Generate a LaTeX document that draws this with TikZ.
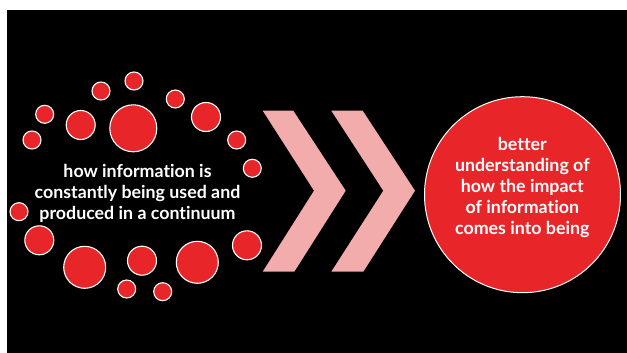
\documentclass[tikz,border=0pt]{standalone}
\usepackage{fontspec}
\setmainfont{Lato}[Ligatures=NoCommon]
\definecolor{dotred}{HTML}{E8262A}
\definecolor{chev}{HTML}{F2ACAC}
\begin{document}
\begin{tikzpicture}[x=1pt,y=-1pt,
  dot/.style={circle,fill=dotred,draw=white,line width=1.1pt,inner sep=0pt},
  lbl/.style={text=white,font=\bfseries\fontsize{17.8}{21}\selectfont,align=center},
  chevron/.style={fill=chev,draw=none}]
\useasboundingbox (0,0) rectangle (627,353);
\fill[white] (0,0) rectangle (627,353);
\fill[black] (7,10) rectangle (627,353);
% small dots r=9 -> 18
\node[dot,minimum size=18pt] (c1) at (32,140) {};
\node[dot,minimum size=18pt] (c2) at (44.7,114.3) {};
\node[dot,minimum size=29pt] (c3) at (80.7,125) {};
\node[dot,minimum size=18pt] (c4) at (101,91) {};
\node[dot,minimum size=18pt] (c5) at (134,81) {};
\node[dot,minimum size=47pt] (c6) at (133.3,128.3) {};
\node[dot,minimum size=18pt] (c7) at (175.3,99) {};
\node[dot,minimum size=29pt] (c8) at (206,117) {};
\node[dot,minimum size=18pt] (c9) at (236.7,140) {};
\node[dot,minimum size=18pt] (c10) at (252.3,168.3) {};
\node[dot,minimum size=18pt] (c11) at (19,211.7) {};
\node[dot,minimum size=29pt] (c12) at (39.3,240.3) {};
\node[dot,minimum size=42pt] (c13) at (84.7,267.3) {};
\node[dot,minimum size=29pt] (c14) at (142,260.7) {};
\node[dot,minimum size=18pt] (c15) at (126.7,289) {};
\node[dot,minimum size=18pt] (c16) at (162.7,291.7) {};
\node[dot,minimum size=42pt] (c17) at (197.3,262.3) {};
\node[dot,minimum size=29pt] (c18) at (247,245.3) {};
\node[lbl] (left) at (137.5,193.5) {how information is\\constantly being used and\\produced in a continuum};
% chevrons
\fill[chevron] (262.7,110.7) -- (293.3,110.7) -- (345.7,190.7) -- (294.3,271.7) -- (262.7,271.7) -- (314,190.7) -- cycle;
\fill[chevron] (331.3,110.7) -- (362.7,110.7) -- (415,190.7) -- (363.3,271.7) -- (331.3,271.7) -- (383.3,190.7) -- cycle;
% big circle
\node[dot,minimum size=196pt,line width=1pt] (big) at (522.5,194.7) {};
\node[lbl] (right) at (522.3,187.8) {better\\understanding of\\how the impact\\of information\\comes into being};
\end{tikzpicture}
\end{document}
